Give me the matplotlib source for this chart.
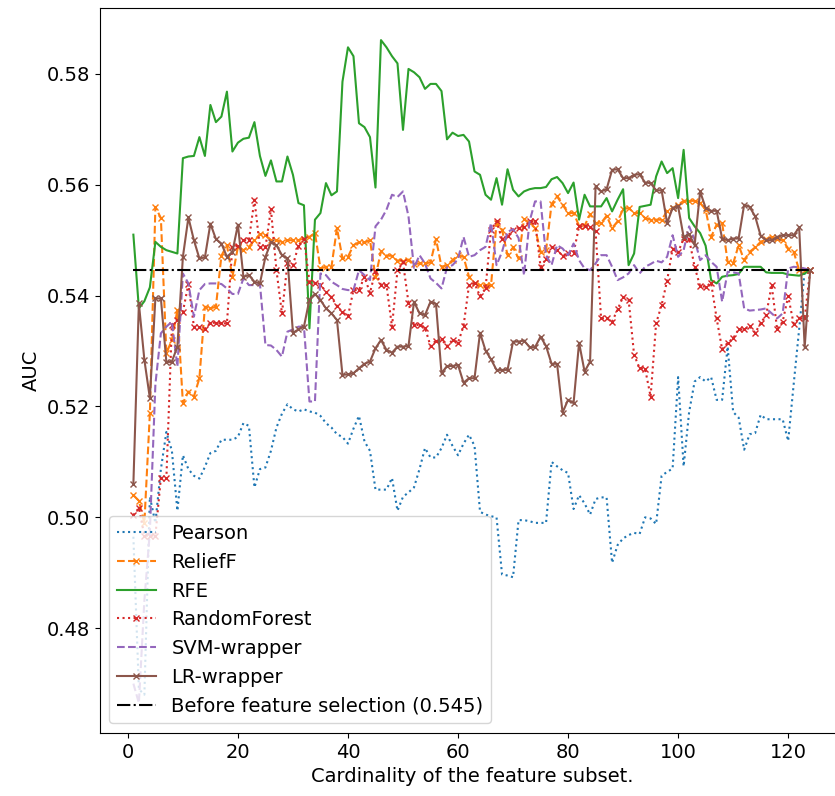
# AUC vs number of selected features for several feature-selection methods
import numpy as np
import matplotlib
matplotlib.use('Agg')
import matplotlib.pyplot as plt

plt.rcParams['font.size'] = 14

n_features = np.arange(1, 125)

pearson = [
    0.4965, 0.4690, 0.4680, 0.5037, 0.4990, 0.5087, 0.5154, 0.5120, 0.5012, 0.5112,
    0.5087, 0.5075, 0.5070, 0.5091, 0.5116, 0.5120, 0.5140, 0.5140, 0.5140, 0.5145,
    0.5170, 0.5165, 0.5054, 0.5087, 0.5090, 0.5120, 0.5162, 0.5187, 0.5204, 0.5195,
    0.5191, 0.5195, 0.5191, 0.5189, 0.5183, 0.5170, 0.5162, 0.5150, 0.5145, 0.5133,
    0.5160, 0.5183, 0.5137, 0.5120, 0.5050, 0.5050, 0.5050, 0.5071, 0.5012, 0.5037,
    0.5045, 0.5054, 0.5087, 0.5125, 0.5108, 0.5108, 0.5125, 0.5149, 0.5129, 0.5112,
    0.5133, 0.5149, 0.5129, 0.5010, 0.5005, 0.5002, 0.5000, 0.4897, 0.4895, 0.4892,
    0.4995, 0.4995, 0.4993, 0.4990, 0.4990, 0.4990, 0.5100, 0.5092, 0.5085, 0.5080,
    0.5015, 0.5040, 0.5025, 0.5005, 0.5033, 0.5036, 0.5036, 0.4918, 0.4950, 0.4962,
    0.4968, 0.4972, 0.4970, 0.5000, 0.4998, 0.4988, 0.5075, 0.5082, 0.5088, 0.5253,
    0.5092, 0.5190, 0.5245, 0.5253, 0.5245, 0.5253, 0.5212, 0.5212, 0.5308, 0.5190,
    0.5180, 0.5122, 0.5150, 0.5152, 0.5185, 0.5177, 0.5177, 0.5177, 0.5177, 0.5138,
    0.5240, 0.5340, 0.5445, 0.5446]

relieff = [
    0.5040, 0.5030, 0.4990, 0.5188, 0.5560, 0.5540, 0.5296, 0.5320, 0.5374, 0.5206,
    0.5227, 0.5218, 0.5251, 0.5380, 0.5377, 0.5380, 0.5472, 0.5491, 0.5434, 0.5488,
    0.5482, 0.5488, 0.5500, 0.5511, 0.5509, 0.5500, 0.5500, 0.5497, 0.5500, 0.5500,
    0.5500, 0.5503, 0.5506, 0.5513, 0.5449, 0.5452, 0.5452, 0.5522, 0.5467, 0.5470,
    0.5491, 0.5496, 0.5496, 0.5500, 0.5434, 0.5480, 0.5472, 0.5472, 0.5463, 0.5463,
    0.5465, 0.5457, 0.5458, 0.5458, 0.5460, 0.5502, 0.5452, 0.5455, 0.5464, 0.5473,
    0.5470, 0.5434, 0.5422, 0.5419, 0.5419, 0.5419, 0.5531, 0.5519, 0.5473, 0.5487,
    0.5467, 0.5538, 0.5531, 0.5522, 0.5479, 0.5482, 0.5565, 0.5579, 0.5564, 0.5549,
    0.5549, 0.5526, 0.5526, 0.5547, 0.5531, 0.5531, 0.5544, 0.5522, 0.5534, 0.5556,
    0.5558, 0.5549, 0.5549, 0.5540, 0.5537, 0.5537, 0.5537, 0.5552, 0.5558, 0.5564,
    0.5571, 0.5571, 0.5571, 0.5567, 0.5555, 0.5506, 0.5528, 0.5531, 0.5461, 0.5458,
    0.5491, 0.5464, 0.5479, 0.5487, 0.5497, 0.5502, 0.5506, 0.5502, 0.5500, 0.5485,
    0.5479, 0.5446, 0.5446, 0.5446]

rfe = [
    0.5510, 0.5377, 0.5390, 0.5415, 0.5497, 0.5488, 0.5482, 0.5479, 0.5476, 0.5648,
    0.5651, 0.5652, 0.5686, 0.5652, 0.5744, 0.5713, 0.5723, 0.5768, 0.5660, 0.5676,
    0.5683, 0.5685, 0.5713, 0.5652, 0.5616, 0.5644, 0.5606, 0.5606, 0.5651, 0.5618,
    0.5567, 0.5563, 0.5341, 0.5537, 0.5549, 0.5603, 0.5581, 0.5588, 0.5786, 0.5848,
    0.5832, 0.5711, 0.5704, 0.5686, 0.5595, 0.5861, 0.5848, 0.5832, 0.5819, 0.5699,
    0.5809, 0.5803, 0.5794, 0.5773, 0.5782, 0.5782, 0.5769, 0.5682, 0.5694, 0.5688,
    0.5690, 0.5678, 0.5624, 0.5618, 0.5582, 0.5573, 0.5612, 0.5564, 0.5628, 0.5591,
    0.5579, 0.5588, 0.5592, 0.5594, 0.5594, 0.5596, 0.5610, 0.5614, 0.5603, 0.5585,
    0.5604, 0.5537, 0.5582, 0.5561, 0.5561, 0.5561, 0.5576, 0.5552, 0.5573, 0.5592,
    0.5455, 0.5476, 0.5560, 0.5562, 0.5564, 0.5615, 0.5642, 0.5621, 0.5630, 0.5576,
    0.5663, 0.5540, 0.5525, 0.5513, 0.5490, 0.5428, 0.5422, 0.5434, 0.5436, 0.5437,
    0.5439, 0.5452, 0.5452, 0.5452, 0.5452, 0.5442, 0.5441, 0.5441, 0.5441, 0.5438,
    0.5437, 0.5436, 0.5440, 0.5446]

random_forest = [
    0.5004, 0.5017, 0.4967, 0.4967, 0.4967, 0.5071, 0.5071, 0.5347, 0.5356, 0.5371,
    0.5421, 0.5344, 0.5343, 0.5340, 0.5351, 0.5351, 0.5350, 0.5350, 0.5488, 0.5490,
    0.5500, 0.5500, 0.5573, 0.5487, 0.5487, 0.5556, 0.5446, 0.5368, 0.5458, 0.5455,
    0.5490, 0.5503, 0.5425, 0.5423, 0.5420, 0.5407, 0.5397, 0.5381, 0.5370, 0.5363,
    0.5410, 0.5410, 0.5434, 0.5405, 0.5445, 0.5419, 0.5419, 0.5344, 0.5446, 0.5460,
    0.5387, 0.5347, 0.5347, 0.5342, 0.5309, 0.5319, 0.5321, 0.5309, 0.5320, 0.5315,
    0.5345, 0.5419, 0.5422, 0.5399, 0.5413, 0.5519, 0.5534, 0.5502, 0.5507, 0.5519,
    0.5522, 0.5523, 0.5534, 0.5534, 0.5452, 0.5466, 0.5488, 0.5482, 0.5472, 0.5477,
    0.5477, 0.5525, 0.5525, 0.5524, 0.5516, 0.5359, 0.5359, 0.5353, 0.5375, 0.5398,
    0.5393, 0.5293, 0.5269, 0.5268, 0.5218, 0.5350, 0.5383, 0.5427, 0.5485, 0.5479,
    0.5502, 0.5502, 0.5452, 0.5417, 0.5416, 0.5423, 0.5359, 0.5303, 0.5315, 0.5323,
    0.5339, 0.5339, 0.5345, 0.5333, 0.5350, 0.5365, 0.5419, 0.5339, 0.5353, 0.5399,
    0.5349, 0.5359, 0.5359, 0.5446]

svm_wrapper = [
    0.4700, 0.4665, 0.4850, 0.4975, 0.5240, 0.5332, 0.5344, 0.5353, 0.5272, 0.5440,
    0.5422, 0.5362, 0.5410, 0.5421, 0.5422, 0.5422, 0.5421, 0.5413, 0.5403, 0.5403,
    0.5431, 0.5419, 0.5419, 0.5421, 0.5311, 0.5310, 0.5302, 0.5290, 0.5335, 0.5339,
    0.5344, 0.5344, 0.5209, 0.5209, 0.5440, 0.5437, 0.5425, 0.5419, 0.5412, 0.5410,
    0.5410, 0.5446, 0.5437, 0.5428, 0.5525, 0.5537, 0.5555, 0.5582, 0.5578, 0.5588,
    0.5543, 0.5450, 0.5473, 0.5458, 0.5431, 0.5423, 0.5413, 0.5451, 0.5455, 0.5466,
    0.5506, 0.5470, 0.5473, 0.5482, 0.5488, 0.5531, 0.5455, 0.5479, 0.5515, 0.5520,
    0.5504, 0.5437, 0.5534, 0.5570, 0.5570, 0.5473, 0.5455, 0.5491, 0.5485, 0.5473,
    0.5494, 0.5464, 0.5449, 0.5446, 0.5458, 0.5473, 0.5473, 0.5452, 0.5428, 0.5433,
    0.5440, 0.5455, 0.5440, 0.5452, 0.5457, 0.5463, 0.5460, 0.5470, 0.5509, 0.5470,
    0.5482, 0.5525, 0.5501, 0.5464, 0.5473, 0.5461, 0.5452, 0.5389, 0.5443, 0.5442,
    0.5440, 0.5377, 0.5373, 0.5374, 0.5375, 0.5377, 0.5368, 0.5359, 0.5368, 0.5449,
    0.5452, 0.5451, 0.5449, 0.5446]

lr_wrapper = [
    0.5060, 0.5386, 0.5284, 0.5215, 0.5395, 0.5395, 0.5280, 0.5281, 0.5308, 0.5470,
    0.5541, 0.5500, 0.5467, 0.5469, 0.5530, 0.5502, 0.5494, 0.5470, 0.5479, 0.5528,
    0.5434, 0.5437, 0.5425, 0.5422, 0.5470, 0.5496, 0.5491, 0.5473, 0.5467, 0.5333,
    0.5339, 0.5344, 0.5393, 0.5403, 0.5392, 0.5377, 0.5368, 0.5356, 0.5257, 0.5258,
    0.5260, 0.5269, 0.5277, 0.5281, 0.5305, 0.5320, 0.5302, 0.5297, 0.5308, 0.5308,
    0.5309, 0.5389, 0.5368, 0.5365, 0.5389, 0.5385, 0.5260, 0.5273, 0.5273, 0.5275,
    0.5243, 0.5251, 0.5251, 0.5333, 0.5301, 0.5285, 0.5266, 0.5266, 0.5266, 0.5317,
    0.5317, 0.5319, 0.5307, 0.5307, 0.5326, 0.5309, 0.5277, 0.5277, 0.5189, 0.5212,
    0.5206, 0.5315, 0.5263, 0.5281, 0.5597, 0.5588, 0.5592, 0.5627, 0.5628, 0.5612,
    0.5612, 0.5618, 0.5619, 0.5604, 0.5603, 0.5590, 0.5590, 0.5531, 0.5558, 0.5561,
    0.5506, 0.5511, 0.5491, 0.5588, 0.5558, 0.5553, 0.5553, 0.5503, 0.5500, 0.5503,
    0.5503, 0.5564, 0.5560, 0.5543, 0.5508, 0.5500, 0.5500, 0.5506, 0.5509, 0.5509,
    0.5509, 0.5523, 0.5307, 0.5446]

baseline_auc = 0.5446

fig = plt.figure(figsize=(8.35, 7.96), dpi=100)
ax = fig.add_axes([0.1192, 0.0792, 0.8916, 0.9108])

ax.plot(n_features, pearson, ':', label='Pearson')
ax.plot(n_features, relieff, '--', marker='x', markersize=4, label='ReliefF')
ax.plot(n_features, rfe, '-', label='RFE')
ax.plot(n_features, random_forest, ':', marker='x', markersize=4, label='RandomForest')
ax.plot(n_features, svm_wrapper, '--', label='SVM-wrapper')
ax.plot(n_features, lr_wrapper, '-', marker='x', markersize=4, label='LR-wrapper')
ax.plot(n_features, [baseline_auc] * len(n_features), 'k-.',
        label='Before feature selection (0.545)')

ax.set_xlim(-5.15, 130.15)
ax.set_ylim(0.4611, 0.5919)
ax.set_xlabel('Cardinality of the feature subset.')
ax.set_ylabel('AUC')
ax.legend(loc='lower left')

fig.savefig('out.png', dpi=100)
